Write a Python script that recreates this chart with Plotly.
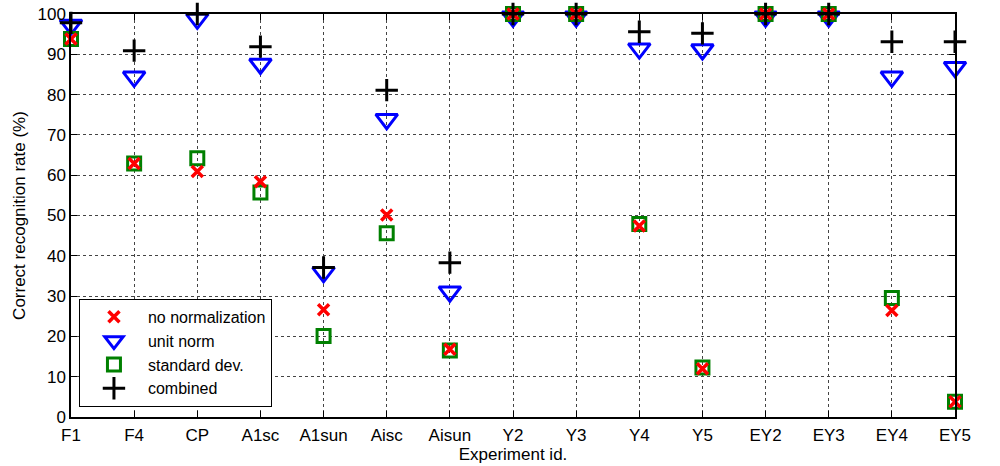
import plotly.graph_objects as go

categories = ["F1", "F4", "CP", "A1sc", "A1sun", "Aisc", "Aisun", "Y2", "Y3", "Y4", "Y5", "EY2", "EY3", "EY4", "EY5"]
no_norm = [93.8, 62.9, 60.9, 58.4, 26.6, 50.1, 16.8, 100, 100, 47.4, 12.0, 100, 100, 26.4, 3.8]
unit_norm = [97.3, 84.4, 98.8, 87.6, 35.9, 73.9, 31.1, 99.3, 99.3, 91.4, 91.2, 99.3, 99.3, 84.4, 86.8]
std_dev = [93.8, 62.9, 64.2, 55.7, 20.1, 45.6, 16.5, 100, 100, 47.9, 12.3, 100, 100, 29.5, 3.8]
combined = [97.8, 90.9, 100, 91.9, 37.1, 81.1, 38.3, 100, 100, 95.6, 95.2, 100, 100, 93.1, 93.1]
y_ticks = [0, 10, 20, 30, 40, 50, 60, 70, 80, 90, 100]

FONT = "Liberation Sans, Arial, sans-serif"
FS = 17

fig = go.Figure()
fig.add_trace(go.Scatter(x=categories, y=unit_norm, mode="markers", name="unit norm",
                         marker=dict(symbol="triangle-down-open", size=19, color="#0000ff",
                                     line=dict(width=3, color="#0000ff")), cliponaxis=False,
                         legendrank=2))
fig.add_trace(go.Scatter(x=categories, y=std_dev, mode="markers", name="standard dev.",
                         marker=dict(symbol="square-open", size=13, color="#008000",
                                     line=dict(width=3, color="#008000")), cliponaxis=False,
                         legendrank=3))
fig.add_trace(go.Scatter(x=categories, y=no_norm, mode="markers", name="no normalization",
                         marker=dict(symbol="x-thin-open", size=11, color="#ff0000",
                                     line=dict(width=3.5, color="#ff0000")), cliponaxis=False,
                         legendrank=1))
fig.add_trace(go.Scatter(x=categories, y=combined, mode="markers", name="combined",
                         marker=dict(symbol="cross-thin-open", size=16, color="#000000",
                                     line=dict(width=3, color="#000000")), cliponaxis=False,
                         legendrank=4))

fig.update_layout(
    width=1000, height=466,
    margin=dict(l=71, r=45, t=14, b=49, autoexpand=False),
    paper_bgcolor="white", plot_bgcolor="white",
    font=dict(family=FONT, size=FS, color="black"),
    showlegend=True,
    legend=dict(x=0.009, y=0.025, xanchor="left", yanchor="bottom",
                bgcolor="white", bordercolor="black", borderwidth=1,
                font=dict(family=FONT, size=16, color="black"),
                itemwidth=58, tracegroupgap=0, traceorder="normal"),
)
fig.update_xaxes(
    range=[0, len(categories) - 1], type="category", automargin=False,
    showline=True, linecolor="black", linewidth=1.5, mirror="ticks",
    ticks="inside", ticklen=6, tickcolor="black", ticklabelstandoff=2,
    showgrid=True, gridcolor="#444444", griddash="dot", gridwidth=1,
    title=dict(text="Experiment id.", font=dict(family=FONT, size=FS), standoff=4),
    tickfont=dict(family=FONT, size=FS), zeroline=False,
)
fig.update_yaxes(
    range=[0, 100], tickvals=y_ticks, automargin=False,
    showline=True, linecolor="black", linewidth=1.5, mirror="ticks",
    ticks="inside", ticklen=6, tickcolor="black",
    showgrid=True, gridcolor="#444444", griddash="dot", gridwidth=1,
    title=dict(text="Correct recognition rate (%)", font=dict(family=FONT, size=FS), standoff=8),
    tickfont=dict(family=FONT, size=FS), zeroline=False,
)

fig.write_html("out.html")
